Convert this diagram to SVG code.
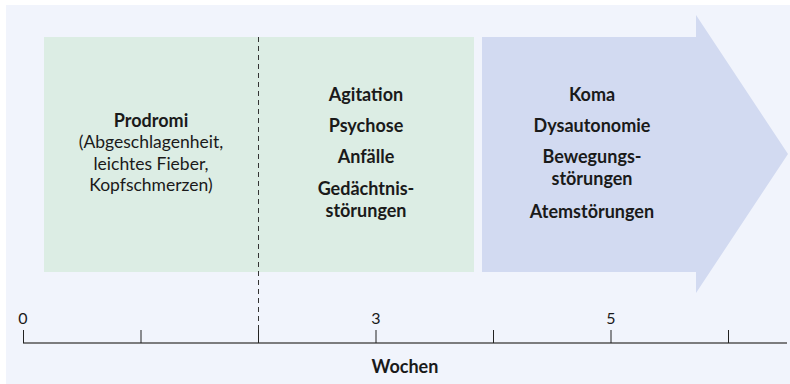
<svg xmlns="http://www.w3.org/2000/svg" width="790" height="384" viewBox="0 0 790 384">
<style>
.t{font-family:Lato,"Open Sans","Liberation Sans",sans-serif;font-size:17.5px;fill:#1a1a1a;text-anchor:middle}
.n{font-size:16px}
.b{font-weight:bold;font-size:18px}
.ax{stroke:#555;stroke-width:1.5;fill:none}
.tk{stroke:#222;stroke-width:1;fill:none}
</style>
<rect x="0" y="0" width="790" height="384" fill="#ffffff"/>
<rect x="6" y="5" width="784" height="379" fill="#f1f4fc"/>
<g id="phase1">
<rect x="44" y="37" width="430" height="235" fill="#dcede4"/>
<text class="t b" x="151" y="127">Prodromi</text>
<text class="t" x="151" y="148">(Abgeschlagenheit,</text>
<text class="t" x="151" y="170">leichtes Fieber,</text>
<text class="t" x="151" y="191">Kopfschmerzen)</text>
</g>
<g id="phase2">
<text class="t b" x="366" y="101">Agitation</text>
<text class="t b" x="366" y="132">Psychose</text>
<text class="t b" x="366" y="163">Anfälle</text>
<text class="t b" x="366" y="195">Gedächtnis-</text>
<text class="t b" x="366" y="217">störungen</text>
</g>
<g id="phase3">
<polygon points="482,37 696,37 696,15 788,154 696,293 696,272 482,272" fill="#d2daf1"/>
<text class="t b" x="592" y="101">Koma</text>
<text class="t b" x="592" y="132">Dysautonomie</text>
<text class="t b" x="592" y="163">Bewegungs-</text>
<text class="t b" x="592" y="185">störungen</text>
<text class="t b" x="592" y="218">Atemstörungen</text>
</g>
<g id="connectors">
<line x1="258.5" y1="37" x2="258.5" y2="330" stroke="#333" stroke-width="1" stroke-dasharray="5,4"/>
<line class="ax" x1="23" y1="343" x2="787" y2="343"/>
<path class="tk" d="M23.5,330V343M141,330V343M258.5,330V343M376,330V343M493.5,330V343M611,330V343M728.5,330V343"/>
</g>
<g id="axis-labels">
<text class="t n" x="23" y="324">0</text>
<text class="t n" x="376" y="324">3</text>
<text class="t n" x="611" y="324">5</text>
<text class="t b" x="405" y="373">Wochen</text>
</g>
</svg>
